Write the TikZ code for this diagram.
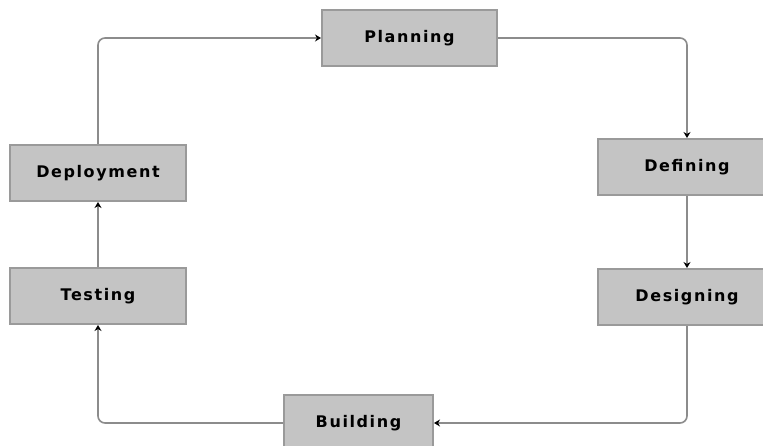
\documentclass[tikz,border=0pt]{standalone}
\usepackage{fontspec}
\setmainfont{DejaVu Sans}
\newfontfamily\boxfont[LetterSpace=10]{DejaVu Sans}
\usetikzlibrary{arrows.meta}
\definecolor{boxfill}{HTML}{C4C4C4}
\definecolor{boxline}{HTML}{9A9A9A}
\definecolor{flowline}{HTML}{8C8C8C}
\tikzset{
  stage/.style={rectangle, fill=boxfill, draw=boxline, line width=2pt,
    minimum width=176pt, minimum height=56pt, inner sep=0pt,
    font=\boxfont\bfseries\fontsize{16}{18}\selectfont},
  flow/.style={draw=flowline, line width=1.6pt, rounded corners=7pt,
    -{Stealth[length=6pt,width=7pt,black]}}
}
\begin{document}
\begin{tikzpicture}[x=1pt,y=1pt]
  \useasboundingbox (0,0) rectangle (763,445);
  \clip (0,0) rectangle (763,445);
  \fill[white] (0,0) rectangle (763,445);
  % stages of the cycle
  \node[stage, minimum width=175pt] (plan) at (409.5,407) {Planning};
  \node[stage, minimum width=178pt] (def)  at (687,278) {Defining};
  \node[stage, minimum width=178pt] (des)  at (687,148) {Designing};
  \node[stage, minimum width=149pt] (bld)  at (358.5,22) {Building};
  \node[stage] (test) at (98,149) {Testing};
  \node[stage] (dep)  at (98,272) {Deployment};
  % flow between the stages
  \draw[flow] (plan.east) -| (def.north);
  \draw[flow] (def.south) -- (des.north);
  \draw[flow] (des.south) |- (bld.east);
  \draw[flow] (bld.west) -| (test.south);
  \draw[flow] (test.north) -- (dep.south);
  \draw[flow] (dep.north) |- (plan.west);
\end{tikzpicture}
\end{document}
